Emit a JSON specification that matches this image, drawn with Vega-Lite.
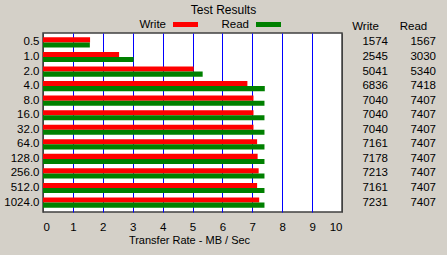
{
  "$schema": "https://vega.github.io/schema/vega-lite/v6.json",
  "width": 299,
  "height": 179,
  "autosize": {"type": "none"},
  "padding": {"left": 43, "top": 33, "right": 105, "bottom": 43},
  "background": "#D4D0C8",
  "title": {
    "text": "Test Results",
    "fontSize": 12,
    "fontWeight": "normal",
    "font": "Liberation Sans",
    "color": "#000000",
    "anchor": "middle",
    "frame": "group",
    "dx": 31,
    "dy": 6,
    "offset": 1
  },
  "data": {
    "values": [
      {"size": "0.5", "series": "Write", "kb": 1574},
      {"size": "0.5", "series": "Read", "kb": 1567},
      {"size": "1.0", "series": "Write", "kb": 2545},
      {"size": "1.0", "series": "Read", "kb": 3030},
      {"size": "2.0", "series": "Write", "kb": 5041},
      {"size": "2.0", "series": "Read", "kb": 5340},
      {"size": "4.0", "series": "Write", "kb": 6836},
      {"size": "4.0", "series": "Read", "kb": 7418},
      {"size": "8.0", "series": "Write", "kb": 7040},
      {"size": "8.0", "series": "Read", "kb": 7407},
      {"size": "16.0", "series": "Write", "kb": 7040},
      {"size": "16.0", "series": "Read", "kb": 7407},
      {"size": "32.0", "series": "Write", "kb": 7040},
      {"size": "32.0", "series": "Read", "kb": 7407},
      {"size": "64.0", "series": "Write", "kb": 7161},
      {"size": "64.0", "series": "Read", "kb": 7407},
      {"size": "128.0", "series": "Write", "kb": 7178},
      {"size": "128.0", "series": "Read", "kb": 7407},
      {"size": "256.0", "series": "Write", "kb": 7213},
      {"size": "256.0", "series": "Read", "kb": 7407},
      {"size": "512.0", "series": "Write", "kb": 7161},
      {"size": "512.0", "series": "Read", "kb": 7407},
      {"size": "1024.0", "series": "Write", "kb": 7231},
      {"size": "1024.0", "series": "Read", "kb": 7407}
    ]
  },
  "layer": [
    {
      "mark": {"type": "bar", "cornerRadius": 0},
      "encoding": {
        "y": {
          "field": "size",
          "type": "nominal",
          "sort": null,
          "scale": {"paddingInner": 0.3, "paddingOuter": 0.3},
          "axis": {
            "title": null,
            "ticks": false,
            "domain": false,
            "labelPadding": 4,
            "labelFontSize": 11.5,
            "labelColor": "#000000",
            "labelFont": "Liberation Sans"
          }
        },
        "yOffset": {
          "field": "series",
          "type": "nominal",
          "sort": ["Write", "Read"],
          "scale": {"paddingInner": 0, "paddingOuter": 0}
        },
        "x": {
          "field": "kb",
          "type": "quantitative",
          "scale": {"domain": [0, 10000], "nice": false, "zero": true},
          "axis": {
            "orient": "bottom",
            "values": [0, 1000, 2000, 3000, 4000, 5000, 6000, 7000, 8000, 9000, 10000],
            "labelExpr": "datum.value / 1000",
            "grid": true,
            "gridColor": {"condition": {"test": "datum.value == 0 || datum.value == 10000", "value": "#404040"}, "value": "#0000FF"},
            "gridOpacity": 1,
            "gridWidth": 1,
            "domain": false,
            "ticks": false,
            "labelPadding": 9,
            "labelFontSize": 11.5,
            "labelColor": "#000000",
            "labelFont": "Liberation Sans",
            "title": "Transfer Rate - MB / Sec",
            "titleFontSize": 11,
            "titleFontWeight": "normal",
            "titleColor": "#000000",
            "titleFont": "Liberation Sans",
            "titlePadding": 2,
            "titleX": 146
          }
        },
        "color": {
          "field": "series",
          "type": "nominal",
          "sort": ["Write", "Read"],
          "scale": {"domain": ["Write", "Read"], "range": ["#FF0000", "#008000"]},
          "legend": {
            "orient": "none",
            "direction": "horizontal",
            "legendX": 130,
            "legendY": -21,
            "title": null,
            "symbolType": "M-1,-0.2H1V0.2H-1Z",
            "symbolSize": 625,
            "symbolStrokeWidth": 0,
            "symbolOpacity": 1,
            "labelAlign": "right",
            "labelOffset": -32,
            "labelFontSize": 11.5,
            "labelColor": "#000000",
            "labelFont": "Liberation Sans",
            "columnPadding": 23
          }
        }
      }
    },
    {
      "mark": {"type": "text", "align": "right", "baseline": "middle", "dx": 23, "fontSize": 11.5, "font": "Liberation Sans", "color": "#000000"},
      "encoding": {
        "y": {"field": "size", "type": "nominal", "sort": null},
        "x": {
          "field": "series",
          "type": "nominal",
          "sort": ["Write", "Read"],
          "scale": {"type": "point", "range": [322, 370], "padding": 0},
          "axis": {
            "orient": "top",
            "title": null,
            "domain": false,
            "ticks": false,
            "grid": false,
            "labelAngle": 0,
            "labelPadding": 2,
            "labelFontSize": 11.5,
            "labelColor": "#000000",
            "labelFont": "Liberation Sans"
          }
        },
        "text": {"field": "kb", "type": "quantitative", "format": "d"}
      }
    }
  ],
  "resolve": {"scale": {"x": "independent"}, "axis": {"x": "independent"}},
  "config": {
    "view": {"fill": "#FFFFFF", "stroke": "#404040", "strokeWidth": 1.5}
  }
}
